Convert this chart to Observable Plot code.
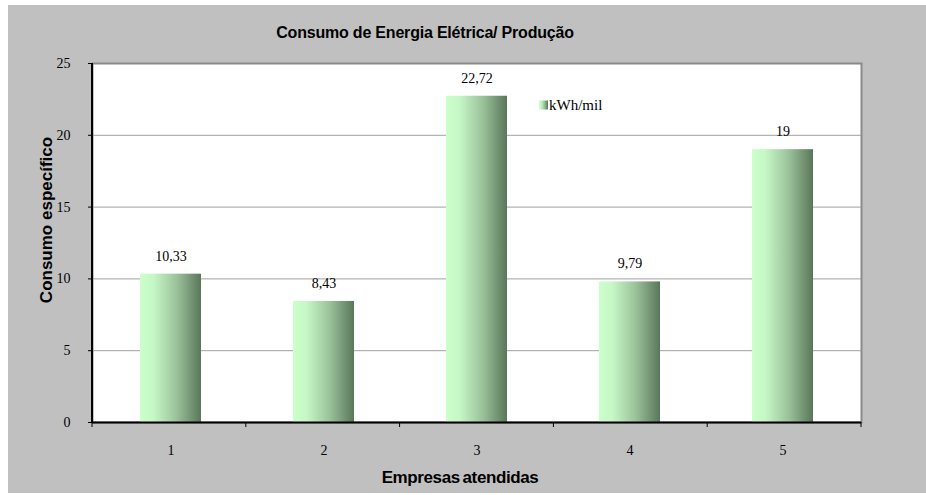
<!DOCTYPE html>
<html>
<head>
<meta charset="utf-8">
<script src="https://cdn.jsdelivr.net/npm/d3@7"></script>
<script src="https://cdn.jsdelivr.net/npm/@observablehq/plot@0.6"></script>
<style>
  body { margin: 0; background: #ffffff; }
  #chart { position: absolute; left: 8px; top: 5px; }
</style>
</head>
<body>
<div id="chart"></div>
<script>
// Consumo específico por empresa atendida (kWh/mil)
const empresas = [1, 2, 3, 4, 5];
const consumo = [10.33, 8.43, 22.72, 9.79, 19];
const rotulos = ["10,33", "8,43", "22,72", "9,79", "19"];
const yTicks = [0, 5, 10, 15, 20, 25];
const gridTicks = [5, 10, 15, 20];

const titulo = "Consumo de Energia Elétrica/ Produção";
const tituloY = "Consumo específico";
const tituloX = "Empresas atendidas";
const serie = "kWh/mil";

const dados = empresas.map((e, i) => ({empresa: e, valor: consumo[i], rotulo: rotulos[i]}));

const W = 918, H = 488;
const M = {left: 84, right: 65, top: 58, bottom: 71};

// black axis lines and category boundary ticks
function eixos(index, scales, values, dim) {
  const g = d3.create("svg:g");
  const x0 = dim.marginLeft, x1 = dim.width - dim.marginRight;
  const y0 = dim.marginTop, y1 = dim.height - dim.marginBottom;
  g.append("line").attr("x1", x0).attr("x2", x0).attr("y1", y0).attr("y2", y1 + 1)
    .attr("stroke", "black").attr("stroke-width", 2);
  const step = (x1 - x0) / empresas.length;
  for (let i = 0; i <= empresas.length; i++) {
    const x = x0 + i * step;
    g.append("line").attr("x1", x).attr("x2", x).attr("y1", y1).attr("y2", y1 + 5)
      .attr("stroke", "black").attr("stroke-width", 1);
  }
  return g.node();
}

const chart = Plot.plot({
  width: W,
  height: H,
  marginLeft: M.left,
  marginRight: M.right,
  marginTop: M.top,
  marginBottom: M.bottom,
  style: {background: "#c0c0c0", fontFamily: "'Liberation Serif', serif", fontSize: "14px", color: "black"},
  x: {type: "band", domain: empresas, paddingInner: 0.6, paddingOuter: 0.3, axis: null},
  y: {domain: [0, 25], axis: null},
  marks: [
    Plot.frame({fill: "white", stroke: "#8a8a8a", strokeWidth: 2}),
    Plot.ruleY(gridTicks, {stroke: "#a0a0a0", strokeWidth: 1}),
    Plot.barY(dados, {x: "empresa", y: "valor", fill: "url(#barGradient)"}),
    Plot.ruleY([0], {stroke: "black", strokeWidth: 2}),
    Plot.axisY({ticks: yTicks, tickSize: 4, tickPadding: 18, tickFormat: d => String(d), label: null, stroke: "black"}),
    Plot.axisX({tickSize: 0, tickPadding: 23, label: null}),
    eixos,
    Plot.text(dados, {x: "empresa", y: "valor", text: "rotulo", dy: -18, fill: "black"})
  ]
});

const svg = d3.select(chart);
const grad = svg.insert("defs", ":first-child").append("linearGradient")
  .attr("id", "barGradient").attr("x1", "0").attr("x2", "1").attr("y1", "0").attr("y2", "0");
[[0, "#ccffcc"], [0.22, "#c6f7c6"], [0.6, "#9bc29b"], [1, "#5a765a"]].forEach(([o, c]) =>
  grad.append("stop").attr("offset", o).attr("stop-color", c));

// chart title, axis titles and legend
const sans = "'Liberation Sans', Arial, sans-serif";
svg.append("text").attr("x", 417).attr("y", 27).attr("text-anchor", "middle")
  .attr("dominant-baseline", "central").attr("font-family", sans).attr("font-weight", "bold")
  .attr("font-size", 16).attr("letter-spacing", "-0.2px").text(titulo);
svg.append("text").attr("transform", "translate(38,215) rotate(-90)").attr("text-anchor", "middle")
  .attr("dominant-baseline", "central").attr("font-family", sans).attr("font-weight", "bold")
  .attr("font-size", 17).text(tituloY);
svg.append("text").attr("x", 452).attr("y", 472).attr("text-anchor", "middle")
  .attr("dominant-baseline", "central").attr("font-family", sans).attr("font-weight", "bold")
  .attr("font-size", 17).attr("letter-spacing", "-0.4px").attr("word-spacing", "-1.5px").text(tituloX);
const leg = svg.append("g").attr("transform", "translate(531,100)");
leg.append("rect").attr("width", 9).attr("height", 9).attr("y", -4.5).attr("fill", "url(#barGradient)");
leg.append("text").attr("x", 10).attr("text-anchor", "start").attr("dominant-baseline", "central")
  .attr("font-family", "'Liberation Serif', serif").attr("font-size", 15).text(serie);

document.getElementById("chart").append(chart);
</script>
</body>
</html>
